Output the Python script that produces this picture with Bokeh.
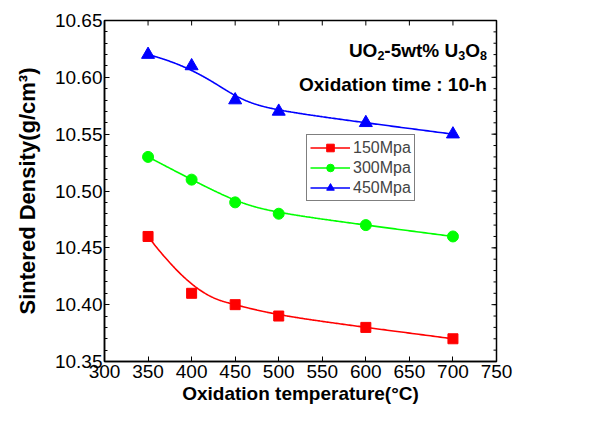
import numpy as np
from bokeh.plotting import figure
from bokeh.models import Label, Legend, LegendItem, FixedTicker, Range1d, NumeralTickFormatter
from bokeh.embed import file_html
from bokeh.resources import INLINE

temps = [350, 400, 450, 500, 600, 700]
d150 = [10.46, 10.41, 10.40, 10.39, 10.38, 10.37]
d300 = [10.53, 10.51, 10.49, 10.48, 10.47, 10.46]
d450 = [10.62, 10.61, 10.58, 10.57, 10.56, 10.55]
series_names = ["150Mpa", "300Mpa", "450Mpa"]
x_ticks = [300, 350, 400, 450, 500, 550, 600, 650, 700, 750]
y_ticks = [10.35, 10.40, 10.45, 10.50, 10.55, 10.60, 10.65]
y_minor = [round(10.35 + 0.01 * i, 2) for i in range(31)]

X0, X1, Y0, Y1 = 300, 750, 10.35, 10.65


def basis(i, k, t, kn):
    if k == 0:
        return ((kn[i] <= t) & (t < kn[i + 1])).astype(float)
    a = np.zeros_like(t)
    b = np.zeros_like(t)
    if kn[i + k] != kn[i]:
        a = (t - kn[i]) / (kn[i + k] - kn[i]) * basis(i, k - 1, t, kn)
    if kn[i + k + 1] != kn[i + 1]:
        b = (kn[i + k + 1] - t) / (kn[i + k + 1] - kn[i + 1]) * basis(i + 1, k - 1, t, kn)
    return a + b


def bspline(xs, ys, n=300, k=3):
    xs = np.asarray(xs, float)
    ys = np.asarray(ys, float)
    m = len(xs)
    kn = np.concatenate([[0] * k, np.arange(m - k + 1), [m - k] * k]).astype(float)
    t = np.linspace(0, m - k - 1e-9, n)
    bx = np.zeros(n)
    by = np.zeros(n)
    for i in range(m):
        N = basis(i, k, t, kn)
        bx += N * xs[i]
        by += N * ys[i]
    return np.append(bx, xs[-1]), np.append(by, ys[-1])


FONT = "Liberation Sans"

p = figure(width=586, height=406,
           output_backend="svg", toolbar_location=None,
           x_range=Range1d(X0, X1), y_range=Range1d(Y0, Y1),
           min_border_left=104, min_border_top=20, min_border_right=90, min_border_bottom=44)
p.xgrid.visible = False
p.ygrid.visible = False
p.outline_line_color = "black"
p.outline_line_width = 1.5
p.background_fill_color = "white"
p.border_fill_color = "white"

xa = p.xaxis[0]
ya = p.yaxis[0]
xa.ticker = FixedTicker(ticks=x_ticks)
xa.axis_label = "Oxidation temperature(\u00b0C)"
ya.ticker = FixedTicker(ticks=y_ticks, minor_ticks=y_minor)
ya.axis_label = "Sintered Density(g/cm\u00b3)"
ya.formatter = NumeralTickFormatter(format="0.00")

for ax in [xa, ya]:
    ax.axis_line_color = "black"
    ax.axis_line_width = 1.5
    ax.major_tick_in = 5
    ax.major_tick_out = 0
    ax.minor_tick_in = 3
    ax.minor_tick_out = 0
    ax.major_label_text_font = FONT
    ax.major_label_text_font_size = "19px"
    ax.major_label_text_color = "black"
    ax.axis_label_text_font = FONT
    ax.axis_label_text_font_style = "bold"
    ax.axis_label_text_color = "black"
    ax.major_label_standoff = 2
xa.minor_tick_in = 0
xa.major_label_standoff = 3
xa.axis_label_text_font_size = "19px"
xa.axis_label_standoff = 2
ya.axis_label_text_font_size = "22px"
ya.axis_label_standoff = 12

# inward ticks on the top and right edges of the frame
tick_len_x = 5 * (Y1 - Y0) / 342
tick_len_y = 5 * (X1 - X0) / 392
p.segment(x0=x_ticks, x1=x_ticks, y0=[Y1] * len(x_ticks), y1=[Y1 - tick_len_x] * len(x_ticks),
          line_color="black", line_width=1)
p.segment(x0=[X1] * len(y_ticks), x1=[X1 - tick_len_y] * len(y_ticks), y0=y_ticks, y1=y_ticks,
          line_color="black", line_width=1)
p.segment(x0=[X1] * len(y_minor), x1=[X1 - tick_len_y * 0.6] * len(y_minor), y0=y_minor, y1=y_minor,
          line_color="black", line_width=1)

colors = ["#ff0000", "#00ff00", "#0000ff"]
markers = ["square", "circle", "triangle"]
sizes = [10, 11, 13]
items = []
for name, ys, c, mk, sz in zip(series_names, [d150, d300, d450], colors, markers, sizes):
    sx, sy = bspline(temps, ys)
    ln = p.line(sx, sy, line_color=c, line_width=1.6)
    sc = p.scatter(temps, ys, marker=mk, size=sz, fill_color=c, line_color=c)
    items.append(LegendItem(label=name, renderers=[ln, sc]))

leg = Legend(items=items, location=(202, 160), glyph_width=40, glyph_height=19,
             label_text_font=FONT, label_text_font_size="16px", label_height=19,
             spacing=1, padding=3, margin=0, label_standoff=3,
             border_line_color="black", border_line_width=1.5,
             background_fill_alpha=1)
p.add_layout(leg, "center")

# composition text with real subscripts, built right-to-left from Arial-bold advance widths
FS = 19
SUB = 12.5
ADV = {"U": .722, "O": .778, "-": .333, "5": .556, "w": .778, "t": .333, "%": .889, " ": .278,
       "2": .556, "3": .556, "8": .556}
pieces = [("UO", False), ("2", True), ("-5wt% U", False), ("3", True), ("O", False), ("8", True)]
off = 0.0
for txt, sub in reversed(pieces):
    size = SUB if sub else FS
    p.add_layout(Label(x=739, y=10.624, x_offset=-off, y_offset=-5 if sub else 0,
                       text=txt, text_align="right", text_baseline="alphabetic",
                       text_font=FONT, text_font_style="bold", text_font_size=f"{size}px",
                       text_color="black"))
    off += sum(ADV[ch] for ch in txt) * size

p.add_layout(Label(x=739, y=10.594, text="Oxidation time : 10-h", text_align="right",
                   text_baseline="alphabetic",
                   text_font=FONT, text_font_style="bold", text_font_size="19px", text_color="black"))

open("out.html", "w").write(file_html(p, INLINE))
